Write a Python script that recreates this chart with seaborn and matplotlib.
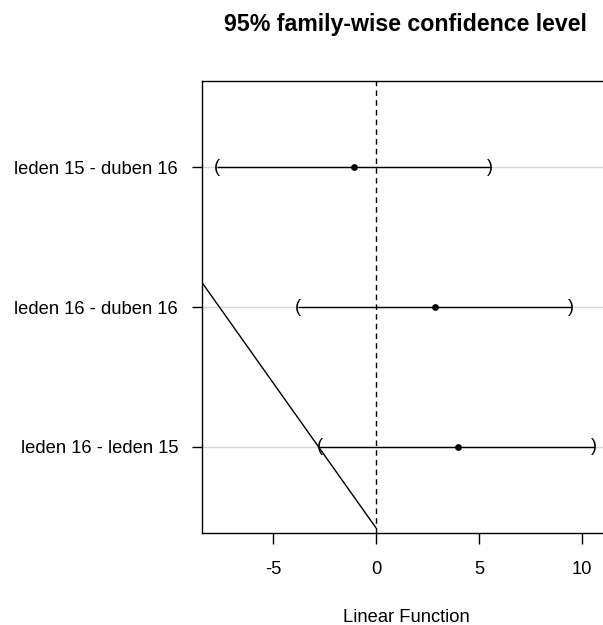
import matplotlib
matplotlib.use("Agg")
import matplotlib.pyplot as plt
import seaborn as sns
import pandas as pd

# Simultaneous confidence intervals for the pairwise contrasts
contrasts = ["leden 15 - duben 16", "leden 16 - duben 16", "leden 16 - leden 15"]
estimate = [-1.08, 2.89, 3.96]
lower = [-7.71, -3.80, -2.74]
upper = [5.54, 9.46, 10.58]

# Extra reference segment drawn over the panel
ref_x = [-10.0, 0.0]
ref_y = [2.50, 0.417]

x_ticks = [-5, 0, 5, 10]

sns.set_style("white")
plt.rcParams["font.family"] = ["Liberation Sans", "DejaVu Sans"]
plt.rcParams["text.color"] = "black"
plt.rcParams["xtick.color"] = "black"
plt.rcParams["ytick.color"] = "black"
plt.rcParams["axes.labelcolor"] = "black"

df = pd.DataFrame({
    "contrast": contrasts,
    "estimate": estimate,
    "lower": lower,
    "upper": upper,
})
df["pos"] = list(range(len(contrasts), 0, -1))

fig = plt.figure(figsize=(6.03, 6.25), dpi=100)
ax = fig.add_axes([0.335, 0.1472, 0.675, 0.7232])

# light grid line through each contrast
for p in df["pos"]:
    ax.axhline(p, color="#d6d6d6", lw=1.0, zorder=0)

ax.hlines(df["pos"], df["lower"], df["upper"], color="black", lw=1.0, zorder=2)
for _, r in df.iterrows():
    ax.text(r["lower"], r["pos"], "(", ha="center", va="center", fontsize=13, zorder=3)
    ax.text(r["upper"], r["pos"], ")", ha="center", va="center", fontsize=13, zorder=3)

sns.scatterplot(data=df, x="estimate", y="pos", color="black", s=20,
                edgecolor="black", ax=ax, zorder=4, legend=False)

ax.axvline(0, color="black", lw=1.0, ls=(0, (4, 3)), zorder=1)

sns.lineplot(x=ref_x, y=ref_y, color="black", lw=1.0, ax=ax, zorder=2)

# x range: interval span padded by 4% on each side
lo, hi = min(lower), max(upper)
span = hi - lo
ax.set_xlim(lo - 0.04 * span, hi + 0.04 * span)
ax.set_ylim(0.38, 3.62)
ax.set_xticks(x_ticks)
ax.set_xticklabels([str(t) for t in x_ticks])
ax.set_yticks(df["pos"])
ax.set_yticklabels(df["contrast"])
ax.tick_params(axis="y", direction="out", length=7.2, width=1,
               labelsize=13.2, pad=10, left=True)
ax.tick_params(axis="x", direction="out", length=7.9, width=1,
               labelsize=13.2, pad=12, bottom=True)
for s in ax.spines.values():
    s.set_color("black")
    s.set_linewidth(1.0)

ax.set_xlabel("")
ax.set_ylabel("")
fig.text(0.6733, 1 - 617 / 625, "Linear Function", ha="center", va="center",
         fontsize=13.2)
fig.text(0.6716, 1 - 24 / 625, "95% family-wise confidence level", ha="center",
         va="center", fontsize=16.7, fontweight="bold")

fig.savefig("out.png", dpi=100)
